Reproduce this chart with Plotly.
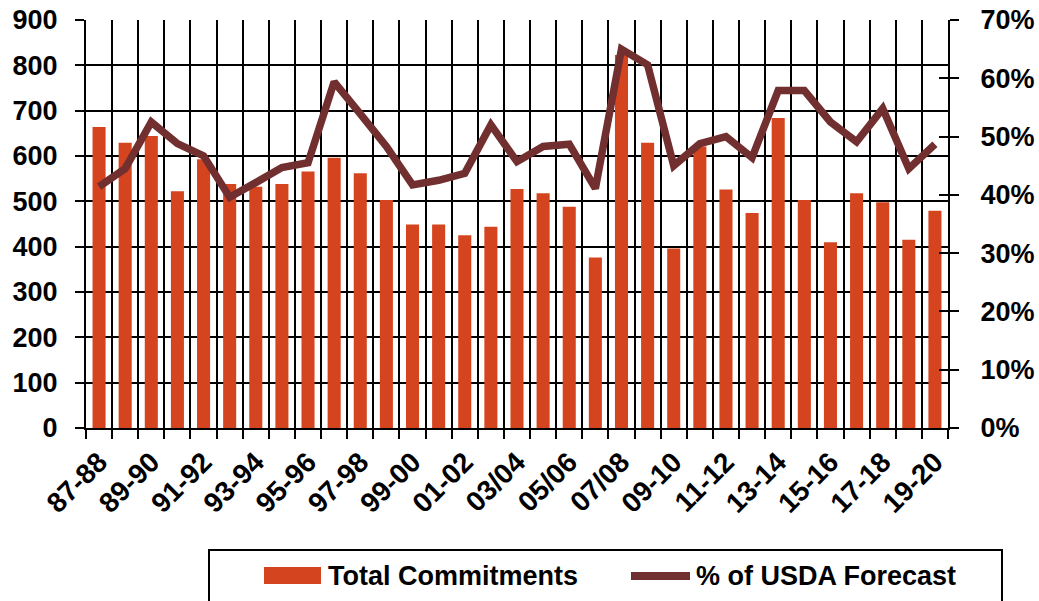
import plotly.graph_objects as go

seasons = ["87-88", "88-89", "89-90", "90-91", "91-92", "92-93", "93-94", "94-95",
           "95-96", "96-97", "97-98", "98-99", "99-00", "00-01", "01-02", "02-03",
           "03/04", "04/05", "05/06", "06/07", "07/08", "08-09", "09-10", "10-11",
           "11-12", "12-13", "13-14", "14-15", "15-16", "16-17", "17-18", "18-19", "19-20"]
total_commitments = [664, 629, 644, 522, 593, 538, 532, 538, 566, 596, 562, 503, 449, 449,
                     425, 444, 527, 518, 488, 376, 823, 629, 396, 621, 526, 474, 684, 503,
                     410, 518, 498, 415, 479]
pct_usda = [41.4, 44.5, 52.5, 48.8, 46.7, 39.6, 42.1, 44.7, 45.5, 59.4, 53.9, 48.3, 41.7,
            42.5, 43.7, 52.0, 45.7, 48.3, 48.7, 41.1, 65.0, 62.3, 45.0, 48.8, 50.0, 46.4,
            57.9, 57.9, 52.5, 49.1, 54.8, 44.5, 48.7]
left_ticks = list(range(0, 901, 100))
right_ticks = list(range(0, 71, 10))
right_labels = [f"{v}%" for v in right_ticks]
bar_name = "Total Commitments"
line_name = "% of USDA Forecast"

BAR_COLOR = "#D4451F"
LINE_COLOR = "#722F2F"
FONT = "Liberation Sans, Arial, sans-serif"

W, H = 1039, 601
PL, PR, PT, PB = 86, 948, 20, 428        # plot area in pixels
L, T, R, B = PL, PT, W - PR, H - PB
PW, PH = W - L - R, H - T - B

def px_x(px):
    return (px - L) / PW

def px_y(py):
    return (H - B - py) / PH

n = len(seasons)
xs = list(range(n))
boundaries = [i - 0.5 for i in range(n + 1)]
label_pos = xs[::2]
label_txt = seasons[::2]

fig = go.Figure()
fig.add_trace(go.Bar(x=xs, y=total_commitments, name=bar_name, marker_color=BAR_COLOR,
                     marker_line_width=0, width=0.5, showlegend=False, yaxis="y"))
fig.add_trace(go.Scatter(x=xs, y=pct_usda, name=line_name, mode="lines",
                         line=dict(color=LINE_COLOR, width=7.5), showlegend=False, yaxis="y2"))
# invisible helper trace so the label axis (x2) and inner-tick axis (y3) are drawn
fig.add_trace(go.Scatter(x=xs, y=pct_usda, mode="lines", line=dict(width=0),
                         opacity=0, showlegend=False, hoverinfo="skip",
                         xaxis="x2", yaxis="y3"))

tickfont = dict(family=FONT, size=27, color="black", weight="bold")

fig.update_layout(
    template="none",
    width=W, height=H,
    margin=dict(l=L, r=R, t=T, b=B, pad=0, autoexpand=False),
    paper_bgcolor="white", plot_bgcolor="white",
    xaxis=dict(range=[-0.5, n - 0.5], tickmode="array", tickvals=boundaries,
               ticktext=[""] * len(boundaries), showgrid=True, gridcolor="black",
               gridwidth=1.8, ticks="outside", ticklen=9, tickwidth=2, tickcolor="black",
               showline=True, linecolor="black", linewidth=2, zeroline=False,
               automargin=False),
    xaxis2=dict(range=[-0.5, n - 0.5], overlaying="x", anchor="y", side="bottom",
                tickmode="array", tickvals=label_pos, ticktext=label_txt, tickangle=-45,
                showgrid=False, ticks="", showline=False, zeroline=False, automargin=False,
                ticklabeloverflow="allow", ticklabelstandoff=11,
                tickfont=dict(family=FONT, size=28, color="black", weight="bold")),
    yaxis=dict(range=[0, 900], tickmode="array", tickvals=left_ticks, showgrid=True,
               gridcolor="black", gridwidth=1.8, ticks="outside", ticklen=9, tickwidth=2,
               tickcolor="black", showline=True, linecolor="black", linewidth=2,
               zeroline=False, tickfont=tickfont, ticklabelstandoff=12, automargin=False,
               ticklabeloverflow="allow"),
    yaxis2=dict(range=[0, 70], overlaying="y", side="right", anchor="x", tickmode="array",
                tickvals=right_ticks, ticktext=right_labels, showgrid=False, ticks="outside",
                ticklen=9, tickwidth=2, tickcolor="black", showline=True, linecolor="black",
                linewidth=2, zeroline=False, tickfont=tickfont, ticklabelstandoff=16,
                automargin=False, ticklabeloverflow="allow"),
    yaxis3=dict(range=[0, 70], overlaying="y", side="right", anchor="x2", tickmode="array",
                tickvals=right_ticks, showticklabels=False, showgrid=False, ticks="inside",
                ticklen=9, tickwidth=2, tickcolor="black", showline=False, zeroline=False,
                automargin=False),
    showlegend=False,
)

# manual legend box
shapes = [
    dict(type="rect", xref="paper", yref="paper", x0=px_x(209), x1=px_x(1002),
         y0=px_y(630), y1=px_y(550), line=dict(color="black", width=2), fillcolor="white",
         layer="above"),
    dict(type="rect", xref="paper", yref="paper", x0=px_x(264), x1=px_x(321),
         y0=px_y(584), y1=px_y(567), line=dict(width=0), fillcolor=BAR_COLOR, layer="above"),
    dict(type="line", xref="paper", yref="paper", x0=px_x(631), x1=px_x(690),
         y0=px_y(576), y1=px_y(576), line=dict(color=LINE_COLOR, width=8), layer="above"),
]
legend_font = dict(family=FONT, size=27, color="black", weight="bold")
annotations = [
    dict(text=bar_name, xref="paper", yref="paper", x=px_x(326), y=px_y(576),
         xanchor="left", yanchor="middle", showarrow=False, font=legend_font),
    dict(text=line_name, xref="paper", yref="paper", x=px_x(694), y=px_y(576),
         xanchor="left", yanchor="middle", showarrow=False, font=legend_font),
]
fig.update_layout(shapes=shapes, annotations=annotations)

# remove the page's default 8px body margin so the figure sits at the window origin
fig.write_html("out.html", config={"displayModeBar": False},
               post_script="document.body.style.margin='0px';")
